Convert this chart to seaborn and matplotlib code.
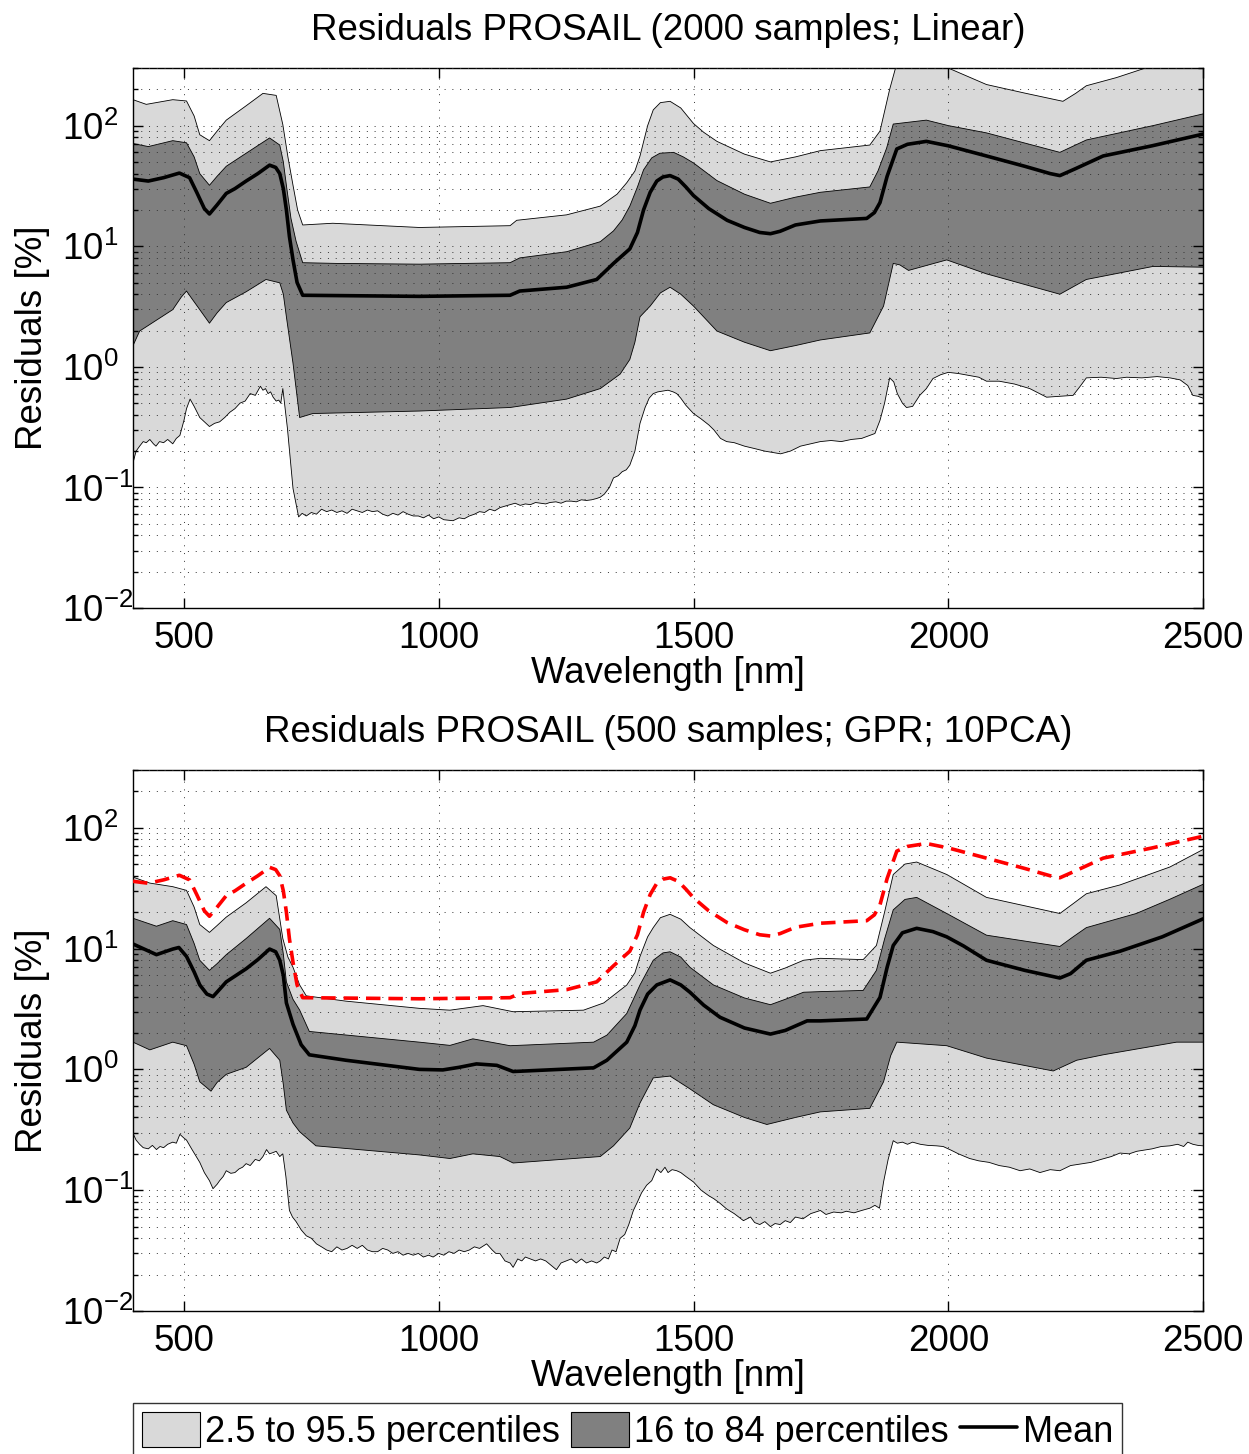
import matplotlib
matplotlib.use("Agg")
import matplotlib.pyplot as plt
import numpy as np
import seaborn as sns
from matplotlib.lines import Line2D
from matplotlib.patches import Patch
from matplotlib.ticker import LogLocator, NullFormatter

sns.set_style("ticks")
plt.rcParams["font.family"] = ["Liberation Sans", "DejaVu Sans"]
plt.rcParams["mathtext.fontset"] = "custom"
plt.rcParams["mathtext.rm"] = "Liberation Sans"
plt.rcParams["text.color"] = "black"
plt.rcParams["axes.labelcolor"] = "black"
plt.rcParams["xtick.color"] = "black"
plt.rcParams["ytick.color"] = "black"

LIGHT = "#d9d9d9"
DARK = "#808080"

# each curve: (wavelength [nm], residual [%]) pairs

# ---------------- top panel: 2000 samples, Linear ----------------
top_p975 = [(400, 164), (426, 150), (478, 164), (505, 160), (520, 120), (531, 84), (550, 75), (565, 90),
            (583, 111), (622, 146), (655, 185), (681, 178), (694, 102), (704, 55), (714, 32), (723, 20), (733, 15),
            (792, 15.5), (962, 14.3), (1140, 14.8), (1153, 16.4), (1251, 18.2), (1317, 21.5), (1350, 27),
            (1369, 33.6), (1385, 42), (1395, 56), (1410, 100), (1421, 135), (1435, 155), (1454, 159), (1475, 140),
            (1500, 104), (1520, 88), (1546, 74), (1600, 58), (1651, 50), (1700, 55), (1749, 62), (1846, 69),
            (1866, 90), (1885, 200), (1900, 340), (1950, 420), (1990, 340), (2000, 300), (2075, 219), (2150, 186),
            (2225, 159), (2250, 185), (2271, 214), (2330, 250), (2389, 302), (2450, 340), (2500, 370)]

top_p84 = [(400, 71), (430, 67), (478, 75), (505, 72), (520, 55), (531, 40), (550, 32), (565, 38), (583, 46),
           (622, 59), (668, 79), (688, 69), (695, 50), (701, 32), (710, 17), (720, 11), (733, 7.3), (800, 7.2),
           (962, 7.1), (1140, 7.3), (1159, 8.0), (1251, 9.0), (1317, 10.9), (1343, 13.4), (1360, 16.5),
           (1375, 21.5), (1390, 31), (1402, 43), (1418, 54), (1434, 59), (1461, 60), (1480, 55), (1500, 49),
           (1546, 35), (1600, 27), (1651, 22.7), (1700, 25.5), (1749, 28), (1846, 31), (1862, 42), (1879, 65),
           (1892, 103), (1957, 111), (2000, 100), (2075, 87), (2219, 60), (2240, 66), (2271, 76), (2402, 100),
           (2500, 125)]

top_mean = [(400, 36), (430, 34.7), (460, 37), (491, 40.4), (511, 37), (525, 28), (540, 20.5), (550, 18.5),
            (565, 22), (583, 27.4), (600, 30), (622, 34.7), (645, 40), (668, 47), (680, 45), (688, 40), (695, 30),
            (701, 20), (707, 12), (714, 7.7), (722, 5.0), (733, 3.92), (962, 3.84), (1140, 3.92), (1159, 4.25),
            (1251, 4.57), (1310, 5.3), (1343, 7.2), (1375, 9.5), (1390, 13), (1402, 20), (1415, 28), (1428, 34.7),
            (1440, 37.5), (1454, 38.5), (1470, 36), (1485, 31), (1500, 26.3), (1530, 20.5), (1566, 16.4),
            (1600, 14.3), (1630, 13), (1651, 12.7), (1670, 13.3), (1700, 15), (1749, 16.2), (1840, 17),
            (1855, 19), (1866, 23), (1880, 38), (1899, 64), (1920, 70), (1957, 74), (2000, 68), (2075, 56),
            (2150, 46), (2200, 40), (2219, 38.5), (2250, 44), (2304, 56), (2400, 68), (2500, 85)]

top_p16 = [(400, 1.5), (413, 1.98), (478, 2.98), (495, 3.8), (505, 4.25), (515, 3.7), (531, 2.98), (550, 2.3),
           (565, 2.8), (583, 3.41), (622, 4.19), (661, 5.3), (688, 4.97), (695, 4.0), (701, 2.6), (714, 1.07),
           (727, 0.38), (753, 0.41), (962, 0.43), (1140, 0.46), (1251, 0.54), (1317, 0.66), (1356, 0.87),
           (1375, 1.15), (1385, 1.6), (1395, 2.6), (1415, 3.19), (1435, 4.1), (1454, 4.57), (1475, 4.0),
           (1500, 3.19), (1546, 1.98), (1600, 1.6), (1651, 1.36), (1700, 1.5), (1749, 1.67), (1846, 1.91),
           (1873, 3.19), (1892, 7.2), (1905, 7.0), (1922, 6.3), (1997, 7.7), (2075, 5.9), (2219, 4.0),
           (2271, 5.3), (2402, 6.8), (2500, 6.7)]

top_p25 = [(400, 0.16), (406, 0.2), (413, 0.22), (420, 0.24), (426, 0.235), (433, 0.25), (440, 0.23), (445, 0.22),
           (452, 0.24), (460, 0.235), (468, 0.25), (478, 0.23), (485, 0.255), (492, 0.27), (500, 0.36),
           (505, 0.45), (512, 0.54), (520, 0.47), (531, 0.38), (540, 0.35), (550, 0.32), (560, 0.34), (570, 0.35),
           (580, 0.38), (590, 0.42), (600, 0.45), (610, 0.5), (620, 0.52), (630, 0.6), (640, 0.58), (650, 0.69),
           (655, 0.64), (660, 0.66), (665, 0.6), (670, 0.62), (675, 0.56), (681, 0.52), (686, 0.53), (690, 0.5),
           (694, 0.66), (703, 0.31), (714, 0.098), (725, 0.057), (732, 0.061), (740, 0.058), (750, 0.062),
           (760, 0.06), (770, 0.066), (780, 0.063), (790, 0.065), (800, 0.062), (810, 0.064), (820, 0.061),
           (830, 0.066), (840, 0.064), (850, 0.062), (860, 0.065), (870, 0.063), (880, 0.064), (890, 0.06),
           (900, 0.058), (910, 0.061), (920, 0.059), (930, 0.063), (940, 0.06), (950, 0.058), (960, 0.058),
           (970, 0.056), (980, 0.059), (990, 0.055), (1000, 0.057), (1010, 0.054), (1028, 0.053), (1040, 0.056),
           (1050, 0.055), (1060, 0.058), (1070, 0.06), (1080, 0.063), (1090, 0.062), (1100, 0.066),
           (1110, 0.064), (1120, 0.068), (1130, 0.07), (1140, 0.072), (1150, 0.074), (1160, 0.071),
           (1170, 0.073), (1180, 0.072), (1190, 0.075), (1200, 0.074), (1210, 0.073), (1218, 0.075),
           (1230, 0.076), (1240, 0.074), (1250, 0.077), (1260, 0.077), (1270, 0.076), (1280, 0.079),
           (1290, 0.078), (1300, 0.079), (1310, 0.081), (1317, 0.083), (1325, 0.088), (1335, 0.1), (1343, 0.12),
           (1352, 0.125), (1360, 0.135), (1368, 0.14), (1375, 0.153), (1385, 0.2), (1395, 0.34), (1405, 0.46),
           (1413, 0.55), (1421, 0.6), (1430, 0.62), (1440, 0.63), (1450, 0.64), (1460, 0.62), (1467, 0.6),
           (1475, 0.55), (1485, 0.48), (1500, 0.41), (1515, 0.37), (1530, 0.33), (1540, 0.3), (1553, 0.255),
           (1565, 0.24), (1580, 0.235), (1600, 0.22), (1620, 0.21), (1640, 0.2), (1655, 0.195), (1671, 0.19),
           (1690, 0.2), (1710, 0.22), (1730, 0.23), (1749, 0.24), (1770, 0.245), (1790, 0.24), (1810, 0.25),
           (1830, 0.255), (1846, 0.27), (1856, 0.28), (1866, 0.36), (1875, 0.5), (1885, 0.81), (1893, 0.75),
           (1900, 0.6), (1910, 0.5), (1918, 0.46), (1930, 0.47), (1944, 0.58), (1957, 0.66), (1970, 0.8),
           (1985, 0.86), (2000, 0.9), (2020, 0.88), (2040, 0.85), (2060, 0.82), (2075, 0.76), (2100, 0.76),
           (2130, 0.72), (2160, 0.66), (2193, 0.56), (2220, 0.57), (2245, 0.58), (2260, 0.7), (2271, 0.81),
           (2300, 0.82), (2330, 0.8), (2350, 0.82), (2380, 0.81), (2410, 0.83), (2435, 0.81), (2455, 0.78),
           (2470, 0.7), (2480, 0.58), (2490, 0.57), (2500, 0.55)]

# ---------------- bottom panel: 500 samples, GPR, 10PCA ----------------
bot_p975 = [(400, 39), (433, 34.8), (478, 32.5), (505, 30.3), (520, 22), (531, 15.8), (550, 13.6), (565, 15.5),
            (583, 18.2), (622, 23.9), (661, 32.5), (681, 27.4), (694, 12.1), (704, 8.5), (714, 7.0), (727, 5.0),
            (740, 4.06), (818, 3.67), (962, 3.2), (1022, 3.09), (1087, 3.37), (1146, 3.0), (1284, 3.09),
            (1324, 3.55), (1369, 4.99), (1385, 6.3), (1395, 8.6), (1410, 12.5), (1421, 14.9), (1435, 18),
            (1454, 19.2), (1475, 17.5), (1493, 14.9), (1539, 10.6), (1600, 7.6), (1651, 6.25), (1680, 6.9),
            (1716, 8.0), (1749, 8.3), (1833, 8.1), (1859, 10.6), (1875, 20), (1892, 41), (1915, 50), (1938, 52),
            (1997, 41), (2075, 26.5), (2219, 19.5), (2245, 23.5), (2271, 28.4), (2337, 33.6), (2435, 47.3),
            (2500, 66)]

bot_p84 = [(400, 17.8), (446, 15.3), (478, 17), (505, 15.8), (520, 11), (531, 8.0), (550, 6.6), (565, 7.5),
           (583, 8.9), (622, 12.1), (668, 17.8), (688, 14.4), (695, 9), (701, 5.3), (714, 3.8), (727, 3.1),
           (746, 2.06), (962, 1.68), (1022, 1.58), (1067, 1.79), (1140, 1.57), (1304, 1.68), (1330, 1.92),
           (1369, 2.9), (1382, 3.8), (1395, 5.0), (1421, 8.0), (1440, 9.2), (1454, 9.4), (1475, 8.5), (1493, 7.0),
           (1539, 5.0), (1600, 3.9), (1651, 3.43), (1680, 3.8), (1716, 4.35), (1749, 4.4), (1833, 4.5),
           (1859, 6.6), (1875, 12), (1892, 20.9), (1915, 25.5), (1938, 26.5), (1997, 19.5), (2075, 12.9),
           (2219, 10.4), (2245, 12.5), (2271, 14.9), (2369, 19.5), (2435, 25.6), (2500, 34)]

bot_mean = [(400, 10.9), (446, 8.9), (478, 9.9), (490, 10.2), (505, 8.6), (520, 6.4), (531, 5.0), (545, 4.2),
            (557, 4.0), (570, 4.6), (583, 5.3), (622, 6.8), (645, 8.1), (668, 9.9), (680, 9.4), (688, 8.0),
            (695, 6.0), (701, 3.55), (714, 2.36), (730, 1.6), (746, 1.32), (818, 1.19), (962, 1.0), (1008, 0.99),
            (1040, 1.04), (1074, 1.11), (1114, 1.08), (1146, 0.96), (1304, 1.03), (1330, 1.19), (1369, 1.68),
            (1385, 2.3), (1395, 3.1), (1410, 4.2), (1428, 5.0), (1454, 5.5), (1475, 5.0), (1493, 4.35),
            (1520, 3.4), (1552, 2.7), (1600, 2.2), (1651, 1.96), (1680, 2.1), (1723, 2.52), (1749, 2.52),
            (1840, 2.61), (1866, 3.94), (1880, 7.0), (1892, 10.6), (1910, 13.5), (1938, 14.7), (1970, 13.8),
            (1997, 12.5), (2030, 10.5), (2075, 8.0), (2150, 6.6), (2219, 5.7), (2240, 6.2), (2271, 8.0),
            (2337, 9.5), (2420, 12.5), (2500, 17.6)]

bot_p16 = [(400, 1.68), (433, 1.45), (478, 1.68), (505, 1.57), (520, 1.1), (531, 0.79), (553, 0.66), (565, 0.78),
           (583, 0.91), (622, 1.04), (668, 1.49), (688, 1.19), (695, 0.75), (701, 0.46), (714, 0.36), (727, 0.305),
           (759, 0.233), (962, 0.196), (1022, 0.183), (1067, 0.2), (1120, 0.19), (1146, 0.168), (1317, 0.19),
           (1343, 0.233), (1375, 0.327), (1395, 0.527), (1421, 0.85), (1454, 0.88), (1493, 0.69), (1539, 0.51),
           (1600, 0.4), (1644, 0.35), (1700, 0.4), (1749, 0.445), (1846, 0.476), (1873, 0.79), (1887, 1.3),
           (1899, 1.68), (1997, 1.57), (2075, 1.24), (2206, 0.97), (2252, 1.19), (2304, 1.32), (2448, 1.68),
           (2500, 1.68)]

bot_p25 = [(400, 0.295), (406, 0.26), (413, 0.24), (420, 0.225), (430, 0.22), (438, 0.235), (446, 0.217),
           (453, 0.23), (460, 0.225), (468, 0.24), (478, 0.25), (485, 0.245), (492, 0.29), (500, 0.27),
           (505, 0.26), (515, 0.22), (531, 0.17), (540, 0.14), (550, 0.12), (557, 0.103), (565, 0.112),
           (570, 0.12), (577, 0.13), (583, 0.145), (592, 0.138), (600, 0.14), (608, 0.15), (615, 0.155),
           (622, 0.166), (630, 0.16), (640, 0.18), (648, 0.175), (655, 0.19), (662, 0.217), (668, 0.2),
           (675, 0.205), (681, 0.21), (688, 0.19), (694, 0.2), (700, 0.13), (707, 0.068), (713, 0.06),
           (720, 0.055), (730, 0.047), (740, 0.042), (750, 0.04), (760, 0.036), (770, 0.034), (780, 0.032),
           (790, 0.031), (800, 0.034), (810, 0.032), (820, 0.033), (830, 0.035), (840, 0.033), (850, 0.035),
           (860, 0.032), (870, 0.031), (880, 0.031), (890, 0.033), (900, 0.032), (910, 0.03), (920, 0.031),
           (930, 0.029), (940, 0.03), (950, 0.029), (960, 0.03), (970, 0.028), (980, 0.029), (989, 0.028),
           (1000, 0.03), (1010, 0.029), (1020, 0.031), (1030, 0.03), (1040, 0.032), (1050, 0.031), (1060, 0.032),
           (1070, 0.034), (1080, 0.033), (1094, 0.036), (1105, 0.032), (1112, 0.03), (1120, 0.03), (1130, 0.026),
           (1140, 0.025), (1146, 0.023), (1155, 0.027), (1163, 0.026), (1170, 0.028), (1180, 0.027),
           (1190, 0.026), (1200, 0.027), (1210, 0.026), (1220, 0.024), (1231, 0.022), (1240, 0.025),
           (1250, 0.026), (1260, 0.027), (1270, 0.025), (1280, 0.027), (1290, 0.025), (1300, 0.026),
           (1310, 0.025), (1317, 0.026), (1325, 0.028), (1333, 0.027), (1340, 0.032), (1348, 0.031), (1356, 0.04),
           (1365, 0.043), (1373, 0.052), (1382, 0.068), (1390, 0.08), (1398, 0.095), (1408, 0.11), (1418, 0.12),
           (1428, 0.15), (1436, 0.14), (1444, 0.155), (1450, 0.14), (1458, 0.148), (1467, 0.145), (1475, 0.14),
           (1485, 0.13), (1500, 0.117), (1515, 0.1), (1530, 0.09), (1540, 0.085), (1552, 0.078), (1565, 0.07),
           (1580, 0.064), (1598, 0.056), (1612, 0.06), (1620, 0.054), (1630, 0.052), (1640, 0.055), (1651, 0.05),
           (1660, 0.053), (1670, 0.052), (1680, 0.056), (1690, 0.054), (1700, 0.06), (1715, 0.058), (1730, 0.064),
           (1749, 0.068), (1760, 0.063), (1775, 0.066), (1790, 0.065), (1800, 0.067), (1815, 0.065), (1830, 0.068),
           (1846, 0.071), (1856, 0.075), (1865, 0.071), (1873, 0.117), (1882, 0.18), (1892, 0.257), (1900, 0.245),
           (1910, 0.25), (1920, 0.24), (1930, 0.25), (1945, 0.24), (1960, 0.235), (1977, 0.233), (1990, 0.23),
           (2005, 0.215), (2020, 0.2), (2042, 0.183), (2060, 0.175), (2080, 0.17), (2100, 0.16), (2120, 0.155),
           (2141, 0.145), (2160, 0.15), (2180, 0.14), (2200, 0.148), (2219, 0.145), (2240, 0.16), (2260, 0.165),
           (2280, 0.17), (2300, 0.18), (2320, 0.19), (2337, 0.203), (2355, 0.2), (2370, 0.21), (2385, 0.215),
           (2400, 0.22), (2418, 0.23), (2435, 0.233), (2450, 0.24), (2462, 0.23), (2470, 0.25), (2480, 0.24),
           (2490, 0.235), (2500, 0.233)]


def unpack(pairs):
    arr = np.array(pairs, dtype=float)
    return arr[:, 0], arr[:, 1]


def draw_panel(ax, curves, title, ref=None):
    lo_wl, lo = unpack(curves[0])
    p16_wl, p16 = unpack(curves[1])
    mean_wl, mean = unpack(curves[2])
    p84_wl, p84 = unpack(curves[3])
    hi_wl, hi = unpack(curves[4])

    ax.fill(np.r_[hi_wl, lo_wl[::-1]], np.r_[hi, lo[::-1]], facecolor=LIGHT, edgecolor="none", zorder=1)
    ax.fill(np.r_[p84_wl, p16_wl[::-1]], np.r_[p84, p16[::-1]], facecolor=DARK, edgecolor="none", zorder=1.1)
    for wl, v in [(hi_wl, hi), (lo_wl, lo), (p84_wl, p84), (p16_wl, p16)]:
        ax.plot(wl, v, color="black", linewidth=0.6, zorder=1.2)
    sns.lineplot(x=mean_wl, y=mean, ax=ax, color="black", linewidth=2.6, zorder=3)
    if ref is not None:
        ref_wl, ref_v = unpack(ref)
        sns.lineplot(x=ref_wl, y=ref_v, ax=ax, color="red", linewidth=2.6, zorder=3)
        ax.lines[-1].set_dashes((4, 2.2))

    ax.set_yscale("log")
    ax.set_xlim(400, 2500)
    ax.set_ylim(1e-2, 300)
    ax.set_xticks([500, 1000, 1500, 2000, 2500])
    ax.yaxis.set_major_locator(LogLocator(base=10, numticks=10))
    ax.yaxis.set_minor_locator(LogLocator(base=10, subs=np.arange(2, 10), numticks=20))
    ax.yaxis.set_minor_formatter(NullFormatter())
    ax.tick_params(which="both", direction="in", top=True, right=True, labelsize=26.5, width=1.0,
                   colors="black")
    ax.tick_params(axis="x", pad=9)
    # MATLAB-style: the "10" of every label starts at the same x
    ax.tick_params(axis="y", pad=51)
    for lbl in ax.get_yticklabels():
        lbl.set_horizontalalignment("left")
    ax.tick_params(which="major", length=7)
    ax.tick_params(which="minor", length=3.5)
    ax.set_axisbelow(False)
    ax.grid(True, which="major", axis="both", color="0.2", linestyle=(0, (1, 7)), linewidth=0.7)
    ax.grid(True, which="minor", axis="y", color="0.2", linestyle=(0, (1, 7)), linewidth=0.7)
    for s in ax.spines.values():
        s.set_linewidth(1.0)
        s.set_color("black")
    ax.set_title(title, fontsize=26.5, pad=20, color="black")
    ax.set_xlabel("Wavelength [nm]", fontsize=26.5, labelpad=0)
    ax.set_ylabel("Residuals [%]", fontsize=26.5, labelpad=9)


fig = plt.figure(figsize=(12.49, 14.54), dpi=100)
ax1 = fig.add_axes([0.1065, 0.5818, 0.8567, 0.3714])
ax2 = fig.add_axes([0.1065, 0.0983, 0.8567, 0.3721])

draw_panel(ax1, [top_p25, top_p16, top_mean, top_p84, top_p975], "Residuals PROSAIL (2000 samples; Linear)")
draw_panel(ax2, [bot_p25, bot_p16, bot_mean, bot_p84, bot_p975], "Residuals PROSAIL (500 samples; GPR; 10PCA)",
           ref=top_mean)

handles = [Patch(facecolor=LIGHT, edgecolor="black", linewidth=0.8),
           Patch(facecolor=DARK, edgecolor="black", linewidth=0.8),
           Line2D([0], [0], color="black", linewidth=2.6)]
labels = ["2.5 to 95.5 percentiles", "16 to 84 percentiles", "Mean"]
leg = fig.legend(handles, labels, loc="upper left", bbox_to_anchor=(0.1065, 1 - 1403 / 1454),
                 ncol=3, fontsize=26, frameon=True, fancybox=False, edgecolor="black",
                 handlelength=1.6, handleheight=1.1, handletextpad=0.15, columnspacing=0.3,
                 borderpad=0.25, borderaxespad=0)
leg.get_frame().set_linewidth(1.0)
for t in leg.get_texts():
    t.set_color("black")

fig.savefig("out.png", dpi=100)
